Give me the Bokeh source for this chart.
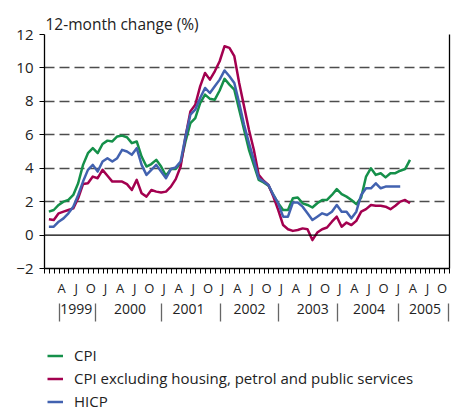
import numpy as np
from bokeh.plotting import figure
from bokeh.layouts import column
from bokeh.models import (Range1d, FixedTicker, LinearAxis, Legend, LegendItem, Span)
from bokeh.embed import file_html
from bokeh.resources import INLINE

# ---- data (12-month change, %), monthly from Jan 1999 ----
cpi = [1.4, 1.5, 1.8, 2.0, 2.1, 2.4, 3.1, 4.2, 4.9, 5.2,
       4.9, 5.45, 5.65, 5.6, 5.9, 5.95, 5.85, 5.5, 5.6, 4.7,
       4.1, 4.25, 4.5, 4.1, 3.55, 3.95, 3.95, 4.3, 5.6, 6.7,
       7.0, 7.9, 8.4, 8.15, 8.1, 8.65, 9.35, 9.0, 8.7, 7.5,
       6.3, 5.1, 4.2, 3.3, 3.15, 2.95, 2.4, 1.9, 1.5, 1.5,
       2.2, 2.25, 1.9, 1.8, 1.65, 1.9, 2.1, 2.1, 2.4, 2.75,
       2.45, 2.3, 2.1, 1.85, 2.25, 3.5, 4.0, 3.6, 3.7, 3.45,
       3.7, 3.7, 3.85, 3.95, 4.5]
core = [0.95, 0.9, 1.3, 1.4, 1.5, 1.6, 2.2, 3.05, 3.1, 3.5,
        3.4, 3.9, 3.55, 3.2, 3.2, 3.2, 3.05, 2.7, 3.3, 2.5,
        2.3, 2.7, 2.6, 2.55, 2.6, 2.9, 3.35, 4.1, 5.9, 7.4,
        7.8, 8.9, 9.7, 9.3, 9.8, 10.4, 11.3, 11.2, 10.7, 9.1,
        7.7, 6.3, 5.1, 3.6, 3.25, 3.0, 2.3, 1.5, 0.6, 0.35,
        0.25, 0.3, 0.4, 0.35, -0.3, 0.15, 0.35, 0.45, 0.8, 1.1,
        0.5, 0.75, 0.6, 0.85, 1.4, 1.55, 1.8, 1.75, 1.75, 1.7,
        1.55, 1.75, 2.0, 2.1, 1.9]
hicp = [0.5, 0.5, 0.8, 1.0, 1.3, 1.7, 2.4, 3.2, 3.9, 4.2,
        3.8, 4.4, 4.6, 4.4, 4.6, 5.1, 5.0, 4.8, 5.2, 4.2,
        3.6, 3.9, 4.2, 3.8, 3.4, 3.95, 4.05, 4.4, 5.9, 7.2,
        7.5, 8.2, 8.8, 8.5, 8.9, 9.3, 9.85, 9.5, 9.1, 7.9,
        6.6, 5.5, 4.5, 3.4, 3.2, 3.0, 2.4, 1.9, 1.1, 1.1,
        1.95, 1.95, 1.7, 1.3, 0.9, 1.1, 1.3, 1.2, 1.4, 1.8,
        1.4, 1.4, 1.0, 1.4, 2.4, 2.8, 2.8, 3.1, 2.8, 2.9,
        2.9, 2.9, 2.9]

series_names = ["CPI", "CPI excluding housing, petrol and public services", "HICP"]
years = ["1999", "2000", "2001", "2002", "2003", "2004", "2005"]
month_letters = {0: "J", 3: "A", 6: "J", 9: "O"}
y_ticks = [-2, 0, 2, 4, 6, 8, 10, 12]
title_text = "12-month change (%)"

# ---- styling ----
FONT = "Open Sans"
TXT = "#222222"
colors = ["#15904a", "#a3004f", "#4262b0"]
N_MONTHS = 83
OFFSET = 0.9   # plotting position of each monthly value inside its month
year_pos = [6.5, 17.5, 29.5, 42.0, 55.0, 66.5, 78.0]      # label centres (months)
sep_pos = [3.0, 10.5, 24.0, 36.0, 48.0, 60.0, 72.5, 82.8]  # separator marks (months)

p = figure(width=453, height=322, x_range=Range1d(0, N_MONTHS), y_range=Range1d(-2, 12),
           output_backend="svg", toolbar_location=None,
           min_border_left=44, min_border_right=4, min_border_top=34, min_border_bottom=54)
p.outline_line_color = None
p.background_fill_color = "white"
p.border_fill_color = "white"

# title
p.title.text = title_text
p.title.align = "left"
p.title.text_font = FONT
p.title.text_font_size = "15.5px"
p.title.text_font_style = "normal"
p.title.text_color = TXT
p.title.standoff = 0
p.title.offset = 1

# grid
p.xgrid.visible = False
p.ygrid.ticker = FixedTicker(ticks=[t for t in y_ticks if t > 0])
p.ygrid.grid_line_color = "#4d4d4d"
p.ygrid.grid_line_dash = "10 5"
p.ygrid.grid_line_width = 1.3
p.add_layout(Span(location=0, dimension="width", line_color="black", line_width=1.3))

# y axis
yax = p.yaxis[0]
yax.ticker = FixedTicker(ticks=y_ticks)
yax.major_tick_out = 5
yax.major_tick_in = 0
yax.minor_tick_line_color = None
yax.major_tick_line_color = "black"
yax.axis_line_color = "black"
yax.axis_line_width = 1.3
yax.major_label_text_font = FONT
yax.major_label_text_font_size = "15px"
yax.major_label_text_color = TXT
yax.major_label_standoff = 6

# right border as a bare axis
rax = LinearAxis(ticker=FixedTicker(ticks=[]), axis_line_color="black", axis_line_width=1.3,
                 major_tick_line_color=None, minor_tick_line_color=None,
                 major_tick_out=0, major_tick_in=0, major_label_standoff=0,
                 major_label_text_font_size="0px")
p.add_layout(rax, "right")

# x axis: month ticks + quarter letters
xax = p.xaxis[0]
centers = [i + 0.5 for i in range(3, 84, 3)]
xax.ticker = FixedTicker(ticks=centers, minor_ticks=list(range(0, N_MONTHS + 1)))
xax.major_label_overrides = {c: month_letters[int(c - 0.5) % 12] for c in centers}
xax.major_tick_line_color = None
xax.major_tick_out = 0
xax.major_tick_in = 0
xax.minor_tick_out = 5
xax.minor_tick_in = 0
xax.minor_tick_line_color = "black"
xax.axis_line_color = "black"
xax.axis_line_width = 1.3
xax.major_label_text_font = FONT
xax.major_label_text_font_size = "13px"
xax.major_label_text_color = TXT
xax.major_label_standoff = 5

# year axis: year names with separator marks
yrax = LinearAxis(ticker=FixedTicker(ticks=year_pos, minor_ticks=sep_pos),
                  major_label_overrides={xp: yr for xp, yr in zip(year_pos, years)},
                  axis_line_color=None, major_tick_line_color=None,
                  major_tick_out=0, major_tick_in=0,
                  minor_tick_line_color="#666666", minor_tick_line_width=1.3,
                  minor_tick_in=-4, minor_tick_out=22,
                  major_label_text_font=FONT, major_label_text_font_size="14px",
                  major_label_text_color=TXT, major_label_standoff=-18)
p.add_layout(yrax, "below")

# lines
renderers = []
for vals, col in zip([cpi, core, hicp], colors):
    xs = np.arange(len(vals)) + OFFSET
    r = p.line(xs, vals, line_color=col, line_width=2.5, line_join="round")
    renderers.append(r)

# legend strip below the chart (its frame is aligned with the chart's frame)
pl = figure(width=453, height=89, x_range=Range1d(0, 1), y_range=Range1d(0, 1),
            x_axis_type=None, y_axis_type=None, output_backend="svg",
            toolbar_location=None, min_border=0)
pl.outline_line_color = None
pl.grid.visible = False
leg_renderers = [pl.line(x=[-2, -1], y=[-2, -2], line_color=col, line_width=2.5) for col in colors]
legend = Legend(items=[LegendItem(label=n, renderers=[r]) for n, r in zip(series_names, leg_renderers)],
                location=(3, 0), orientation="vertical",
                label_text_font=FONT, label_text_font_size="15px",
                label_text_color=TXT, glyph_width=16, glyph_height=17, label_height=17,
                spacing=3, padding=0, margin=0, border_line_alpha=0,
                background_fill_alpha=0, label_standoff=11)
pl.add_layout(legend)

layout = column(p, pl, spacing=0)
open("out.html", "w").write(file_html(layout, INLINE))
